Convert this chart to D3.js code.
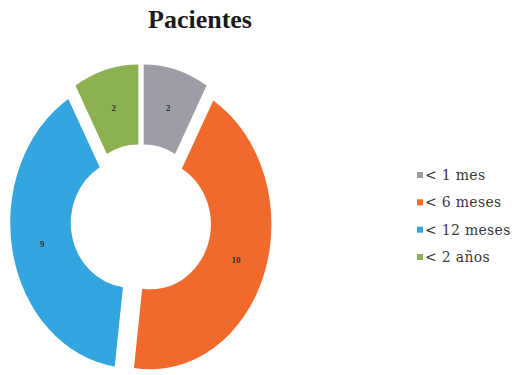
<!DOCTYPE html>
<html>
<head>
<meta charset="utf-8">
<script src="https://cdn.jsdelivr.net/npm/d3@7"></script>
<style>
  html, body { margin: 0; padding: 0; background: #ffffff; }
  svg { display: block; }
</style>
</head>
<body>
<svg id="chart" width="521" height="375"></svg>
<script>
// Patients grouped by age bracket
const categories = ["< 1 mes", "< 6 meses", "< 12 meses", "< 2 años"];
const values = [2, 10, 9, 2];
const colors = ["#9d9da5", "#f16a2c", "#34a6df", "#8db151"];
const title = "Pacientes";

const svg = d3.select("#chart");

// Ring geometry (elliptical doughnut with exploded slices)
const cx = 141, cy = 220.5;
const outerRx = 121, outerRy = 145;
const innerRx = 60.5, innerRy = 65;
const explodeX = 10, explodeY = 11.5;

const pie = d3.pie().sort(null).value(d => d).startAngle(0).endAngle(2 * Math.PI);
const arcs = pie(values);

const pt = (a, rx, ry) => [rx * Math.sin(a), -ry * Math.cos(a)];

function ringSlice(d) {
  const a0 = d.startAngle, a1 = d.endAngle;
  const large = (a1 - a0) > Math.PI ? 1 : 0;
  const o0 = pt(a0, outerRx, outerRy), o1 = pt(a1, outerRx, outerRy);
  const i0 = pt(a0, innerRx, innerRy), i1 = pt(a1, innerRx, innerRy);
  return `M${o0[0]},${o0[1]}` +
    `A${outerRx},${outerRy} 0 ${large} 1 ${o1[0]},${o1[1]}` +
    `L${i1[0]},${i1[1]}` +
    `A${innerRx},${innerRy} 0 ${large} 0 ${i0[0]},${i0[1]}Z`;
}

const midAngle = d => (d.startAngle + d.endAngle) / 2;

const slices = svg.append("g")
  .attr("transform", `translate(${cx},${cy})`)
  .selectAll("g")
  .data(arcs)
  .join("g")
  .attr("transform", d => {
    const m = midAngle(d);
    return `translate(${explodeX * Math.sin(m)},${-explodeY * Math.cos(m)})`;
  });

slices.append("path")
  .attr("d", ringSlice)
  .attr("fill", (d, i) => colors[i]);

// Value labels at the middle of each ring segment
slices.append("text")
  .attr("x", d => pt(midAngle(d), (outerRx + innerRx) / 2, (outerRy + innerRy) / 2)[0])
  .attr("y", d => pt(midAngle(d), (outerRx + innerRx) / 2, (outerRy + innerRy) / 2)[1])
  .attr("dy", "0.35em")
  .attr("text-anchor", "middle")
  .attr("font-family", "'Liberation Serif', serif")
  .attr("font-size", 9)
  .attr("font-weight", "bold")
  .attr("fill", "#333333")
  .text(d => d.data);

// Title
svg.append("text")
  .attr("x", 200)
  .attr("y", 28)
  .attr("text-anchor", "middle")
  .attr("font-family", "'Liberation Serif', serif")
  .attr("font-weight", "bold")
  .attr("font-size", 26)
  .attr("fill", "#1a1a1a")
  .text(title);

// Legend
const legendY = d3.scalePoint().domain(categories).range([175, 257]);
const legend = svg.append("g")
  .selectAll("g")
  .data(categories)
  .join("g")
  .attr("transform", d => `translate(417,${legendY(d)})`);

legend.append("rect")
  .attr("x", 0)
  .attr("y", -3)
  .attr("width", 6)
  .attr("height", 6)
  .attr("fill", (d, i) => colors[i]);

legend.append("text")
  .attr("x", 8)
  .attr("y", 0)
  .attr("dy", "0.35em")
  .attr("font-family", "'DejaVu Serif', serif")
  .attr("font-size", 14)
  .attr("letter-spacing", 0.3)
  .attr("fill", "#3a3a3a")
  .text(d => d);
</script>
</body>
</html>
